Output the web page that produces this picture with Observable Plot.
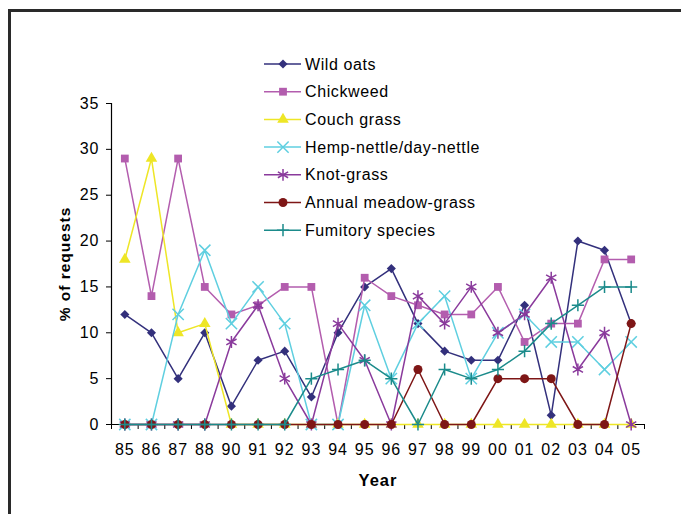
<!DOCTYPE html>
<html>
<head>
<meta charset="utf-8">
<script src="https://cdn.jsdelivr.net/npm/d3@7"></script>
<script src="https://cdn.jsdelivr.net/npm/@observablehq/plot@0.6"></script>
<style>
  html, body { margin: 0; padding: 0; background: #fff; }
  #wrap { position: relative; width: 681px; height: 514px; overflow: hidden; }
  #frame { position: absolute; left: 8px; top: 9px; right: -10px; bottom: -10px;
           border-left: 3px solid #2a2a2a; border-top: 3px solid #2a2a2a; }
  #chart { position: absolute; left: 0; top: 0; }
</style>
</head>
<body>
<div id="wrap"><div id="frame"></div><div id="chart"></div></div>
<script>
const years = ["85","86","87","88","90","91","92","93","94","95","96","97","98","99","00","01","02","03","04","05"];
const seriesNames = ["Wild oats","Chickweed","Couch grass","Hemp-nettle/day-nettle","Knot-grass","Annual meadow-grass","Fumitory species"];
const wildOats   = [12,10,5,10,2,7,8,3,10,15,17,11,8,7,7,13,1,20,19,11];
const chickweed  = [29,14,29,15,12,13,15,15,0,16,14,13,12,12,15,9,11,11,18,18];
const couchGrass = [18,29,10,11,0,0,0,0,0,0,0,0,0,0,0,0,0,0,0,0];
const hempNettle = [0,0,12,19,11,15,11,0,0,13,5,11,14,5,10,12,9,9,6,9];
const knotGrass  = [0,0,0,0,9,13,5,0,11,7,0,14,11,15,10,12,16,6,10,0];
const meadowGrass= [0,0,0,0,0,0,0,0,0,0,0,6,0,0,5,5,5,0,0,11];
const fumitory   = [0,0,0,0,0,0,0,5,6,7,5,0,6,5,6,8,11,13,15,15];
const yTicks = [0,5,10,15,20,25,30,35];

const seriesValues = [wildOats, chickweed, couchGrass, hempNettle, knotGrass, meadowGrass, fumitory];
const colors  = ["#33307c","#b35dae","#eee626","#5fcfe0","#8a3a9c","#7e1616","#1b8b8b"];
const symbols = ["diamond2","square","triangle","times","asterisk","circle","plus"];
const filled  = [true,true,true,false,false,true,false];
const radii   = [4.1,4.4,4.3,5.2,5.6,4.5,4.0];

const marks = [];
marks.push(Plot.ruleY([0], {x1: -0.5, x2: years.length - 0.5, stroke: "#000", strokeWidth: 1.2}));
marks.push(Plot.ruleX([-0.5], {y1: 0, y2: 35, stroke: "#000", strokeWidth: 1.2}));
marks.push(Plot.axisY(yTicks, {tickSize: 5, tickPadding: 7, label: null, stroke: "#000", fill: "#000"}));
marks.push(Plot.axisX(d3.range(-0.5, years.length, 1), {tickSize: 5, tickFormat: () => "", label: null, stroke: "#000"}));
marks.push(Plot.axisX(d3.range(years.length), {tickSize: 0, tickPadding: 19, tickFormat: i => years[i], label: null, fill: "#000"}));

seriesValues.forEach((vals, s) => {
  const data = vals.map((v, i) => ({i, v}));
  marks.push(Plot.line(data, {x: "i", y: "v", stroke: colors[s], strokeWidth: 1.5}));
  marks.push(Plot.dot(data, filled[s]
    ? {x: "i", y: "v", symbol: () => symbols[s], fill: colors[s], stroke: "none", r: radii[s]}
    : {x: "i", y: "v", symbol: () => symbols[s], stroke: colors[s], fill: "none", strokeWidth: 1.5, r: radii[s]}));
});

marks.push(Plot.text(["Year"], {frameAnchor: "bottom", lineAnchor: "middle", textAnchor: "middle", dy: 56, fontWeight: "bold", fontSize: 16.5, fill: "#000"}));
marks.push(Plot.text(["% of requests"], {frameAnchor: "left", lineAnchor: "middle", textAnchor: "middle", dx: -46, rotate: -90, fontWeight: "bold", fontSize: 15.5, fill: "#000"}));

const chart = Plot.plot({
  width: 681,
  height: 514,
  marginLeft: 111,
  marginRight: 37,
  marginTop: 103,
  marginBottom: 90,
  x: {type: "linear", domain: [-0.5, years.length - 0.5], axis: null},
  y: {domain: [0, 35], axis: null},
  symbol: {type: "identity"},
  style: {fontFamily: "'Liberation Sans', Arial, sans-serif", fontSize: "16px", background: "transparent", letterSpacing: "1px", color: "#000"},
  marks
});

// legend
const svg = d3.select(chart);
const lg = svg.append("g").attr("font-family", "'Liberation Sans', Arial, sans-serif").attr("font-size", 16).attr("text-anchor", "start");
const symMap = {diamond2: d3.symbolDiamond2, square: d3.symbolSquare, triangle: d3.symbolTriangle, times: d3.symbolTimes, asterisk: d3.symbolAsterisk, circle: d3.symbolCircle, plus: d3.symbolPlus};
seriesNames.forEach((name, s) => {
  const y = 64 + s * 27.7;
  lg.append("line").attr("x1", 264).attr("x2", 301).attr("y1", y).attr("y2", y)
    .attr("stroke", colors[s]).attr("stroke-width", 1.5);
  const p = d3.symbol(symMap[symbols[s]], Math.PI * radii[s] * radii[s])();
  const path = lg.append("path").attr("d", p).attr("transform", `translate(283,${y})`);
  if (filled[s]) path.attr("fill", colors[s]);
  else path.attr("fill", "none").attr("stroke", colors[s]).attr("stroke-width", 1.5);
  lg.append("text").attr("x", 305).attr("y", y).attr("dy", "0.35em").attr("fill", "#000")
    .attr("text-anchor", "start").attr("letter-spacing", "0.6px").text(name);
});

document.getElementById("chart").appendChild(chart);
</script>
</body>
</html>
